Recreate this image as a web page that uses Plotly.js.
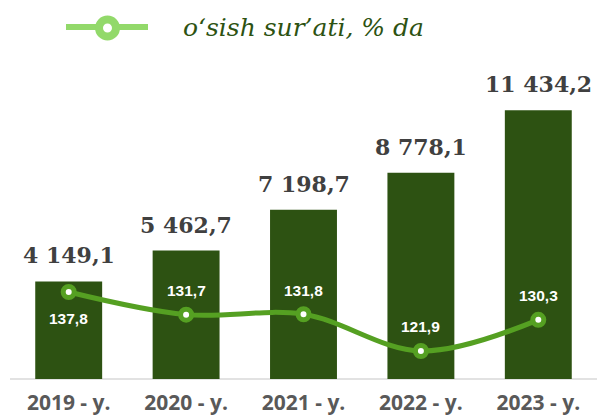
<!DOCTYPE html>
<html>
<head>
<meta charset="utf-8">
<script src="https://cdn.plot.ly/plotly-3.0.1.min.js"></script>
<style>html,body{margin:0;padding:0;background:#fff;}#chart{width:597px;height:417px;}</style>
</head>
<body>
<div id="chart"></div>
<script>
const categories = ["2019 - y.", "2020 - y.", "2021 - y.", "2022 - y.", "2023 - y."];
const volumeValues = [4149.1, 5462.7, 7198.7, 8778.1, 11434.2];
const volumeLabels = ["4 149,1", "5 462,7", "7 198,7", "8 778,1", "11 434,2"];
const growthValues = [137.8, 131.7, 131.8, 121.9, 130.3];
const growthLabels = ["137,8", "131,7", "131,8", "121,9", "130,3"];
const legendText = "o\u2018sish sur\u2019ati, % da";

const W = 597, H = 417;
const M = {l: 10, r: 0, t: 60, b: 38};
const PW = W - M.l - M.r, PH = H - M.t - M.b;
const px = x => (x - M.l) / PW;
const py = y => (H - M.b - y) / PH;

const barColor = "#2d5212";
const lineColor = "#55a022";
const legendColor = "#92d96a";

const bars = {
  type: "bar",
  x: categories,
  y: volumeValues,
  marker: {color: barColor},
  hoverinfo: "none",
  showlegend: false
};

const line = {
  type: "scatter",
  mode: "lines+markers",
  x: categories,
  y: growthValues,
  yaxis: "y2",
  line: {color: lineColor, width: 5, shape: "spline", smoothing: 1},
  marker: {size: 11, color: "#ffffff", line: {color: lineColor, width: 5}},
  hoverinfo: "none",
  showlegend: false,
  cliponaxis: false
};

const annotations = categories.map((c, i) => ({
  x: c, y: volumeValues[i], xref: "x", yref: "y",
  text: "<b>" + volumeLabels[i] + "</b>",
  showarrow: false, yanchor: "middle", yshift: 26,
  font: {family: "DejaVu Serif, serif", size: 22, color: "#404040"}
}));
categories.forEach((c, i) => annotations.push({
  x: c, y: growthValues[i], xref: "x", yref: "y2",
  text: "<b>" + growthLabels[i] + "</b>",
  showarrow: false, yanchor: "middle", yshift: i === 0 ? -26 : 24,
  font: {family: "Liberation Sans, Arial, sans-serif", size: 15.5, color: "#ffffff"}
}));
annotations.push({
  x: px(181), y: py(28), xref: "paper", yref: "paper",
  xanchor: "left", yanchor: "middle", showarrow: false,
  text: "<i>" + legendText + "</i>",
  font: {family: "DejaVu Serif, serif", size: 25, color: barColor}
});

const shapes = [
  {type: "line", xref: "paper", yref: "paper", x0: 0, x1: 1, y0: 0, y1: 0, line: {color: "#d9d9d9", width: 1.5}, layer: "below"},
  {type: "line", xref: "paper", yref: "paper", x0: px(66), x1: px(148), y0: py(27), y1: py(27), line: {color: legendColor, width: 6}},
  {type: "circle", xref: "paper", yref: "paper", x0: px(99), x1: px(116), y0: py(19.5), y1: py(36.5), fillcolor: "#ffffff", line: {color: legendColor, width: 8}}
];

const layout = {
  width: W, height: H,
  margin: M,
  paper_bgcolor: "#ffffff",
  plot_bgcolor: "#ffffff",
  bargap: 0.43,
  showlegend: false,
  xaxis: {
    type: "category",
    showgrid: false, zeroline: false, showline: false,
    ticks: "",
    tickfont: {family: "Open Sans, sans-serif", size: 21, color: "#595959", weight: "bold"},
    ticklabelstandoff: 9
  },
  yaxis: {range: [0, 13574], visible: false, fixedrange: true},
  yaxis2: {range: [114.35, 200.33], overlaying: "y", side: "right", visible: false},
  annotations: annotations,
  shapes: shapes
};

Plotly.newPlot("chart", [bars, line], layout, {displayModeBar: false, staticPlot: true});
</script>
</body>
</html>
